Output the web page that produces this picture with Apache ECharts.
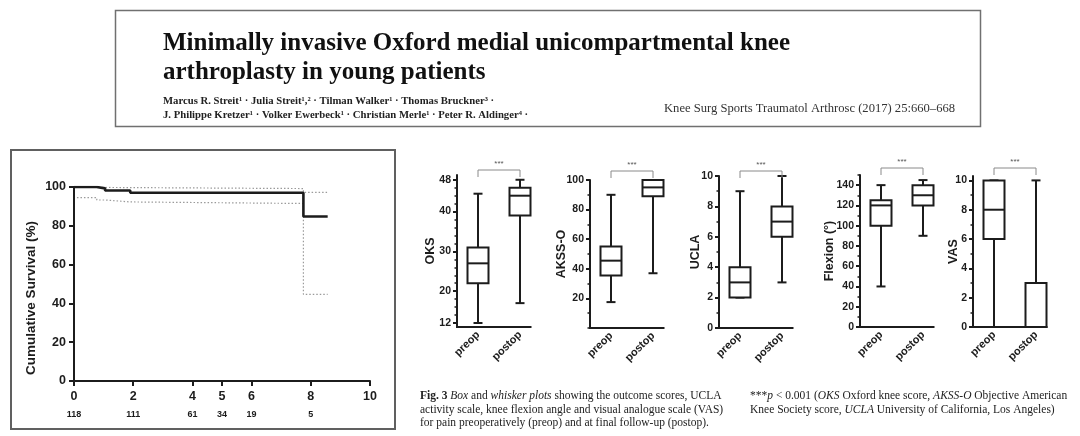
<!DOCTYPE html>
<html><head><meta charset="utf-8">
<script src="https://cdn.jsdelivr.net/npm/echarts@6/dist/echarts.min.js"></script>
<style>html,body{margin:0;padding:0;background:#fff}#c{width:1080px;height:436px}</style>
</head><body><div id="c"></div>
<script>
// ---------- Kaplan-Meier data (years, % survival) ----------
const kmMain  = [[0,100],[0.77,99.3],[1.05,98.2],[1.9,97.0],[7.75,84.8],[8.57,84.8]];
const kmUpper = [[0,99.8],[0.77,99.7],[1.9,99.2],[7.75,97.2],[8.55,97.2]];
const kmLower = [[0.1,94.5],[0.77,93.3],[1.05,92.3],[1.9,91.5],[7.75,44.7],[8.57,44.7]];
const kmTicks = [0,2,4,5,6,8,10];
const atRiskTimes  = [0,2,4,5,6,8];
const atRiskCounts = [118,111,61,34,19,5];

// ---------- Box plot data [min, Q1, median, Q3, max] ----------
const boxCategories = ['preop','postop'];
const oksPreop  = [12,22,27,31,44.5];
const oksPostop = [17,39,44,46,48];
const akssPreop  = [17.5,35.5,45.5,55,90];
const akssPostop = [37,89,95,100,100];
const uclaPreop  = [2,2,3,4,9];
const uclaPostop = [3,6,7,8,10];
const flexPreop  = [40,100,120,125,140];
const flexPostop = [90,120,130,140,145];
const vasPreop  = [0,6,8,10,10];
const vasPostop = [0,0,0,3,10];
const oksTicks  = [12,20,30,40,48];
const akssTicks = [20,40,60,80,100];
const uclaTicks = [0,2,4,6,8,10];
const flexTicks = [0,20,40,60,80,100,120,140];
const vasTicks  = [0,2,4,6,8,10];

function range(a,b,s){const r=[];for(let v=a;v<=b+1e-9;v+=s)r.push(+v.toFixed(4));return r;}

const panels = [
  {name:'OKS',        pre:oksPreop,  post:oksPostop,  ticks:oksTicks,  minor:range(12,48,2),  min:11, max:49.2, left:457, top:175, height:152, nameGap:20, br:5},
  {name:'AKSS-O',     pre:akssPreop, post:akssPostop, ticks:akssTicks, minor:range(0,100,10), min:0,  max:100,  left:590, top:180, height:148, nameGap:22, br:9},
  {name:'UCLA',       pre:uclaPreop, post:uclaPostop, ticks:uclaTicks, minor:range(0,10,1),   min:0,  max:10,   left:719, top:176, height:152, nameGap:17, br:5},
  {name:'Flexion (°)',pre:flexPreop, post:flexPostop, ticks:flexTicks, minor:range(0,150,10), min:0,  max:150,  left:860, top:175, height:152, nameGap:24, br:7},
  {name:'VAS',        pre:vasPreop,  post:vasPostop,  ticks:vasTicks,  minor:range(0,10,1),   min:0,  max:10.3, left:973, top:176, height:151, nameGap:13, br:8}
];

const SANS = "'Liberation Sans', Arial, sans-serif";
const SERIF = "'Liberation Serif', 'Times New Roman', serif";
const INK = '#1c1c1c';
const BOX_HALF = 10.5, CAP_HALF = 4.5;

const grids = [{left:74, top:187, width:296, height:194}];
const xAxes = [
  {type:'value', gridIndex:0, min:0, max:10,
   axisLine:{onZero:false, lineStyle:{color:INK,width:2}},
   axisTick:{customValues:kmTicks, length:5, lineStyle:{color:INK,width:2}},
   axisLabel:{customValues:kmTicks, color:INK, fontWeight:'bold', fontSize:12.5, margin:9, fontFamily:SANS},
   splitLine:{show:false}},
  {type:'value', gridIndex:0, min:0, max:10, position:'bottom',
   axisLine:{show:false}, axisTick:{show:false}, splitLine:{show:false},
   axisLabel:{customValues:atRiskTimes, color:INK, fontWeight:'bold', fontSize:9, margin:29, fontFamily:SANS,
     formatter:v=>String(atRiskCounts[atRiskTimes.indexOf(v)])}}
];
const yAxes = [
  {type:'value', gridIndex:0, min:0, max:100, interval:20,
   axisLine:{show:true, lineStyle:{color:INK,width:2}},
   axisTick:{show:true, length:5, lineStyle:{color:INK,width:2}},
   axisLabel:{color:INK, fontWeight:'bold', fontSize:12.5, margin:8, fontFamily:SANS},
   splitLine:{show:false}}
];
const series = [
  {type:'line', xAxisIndex:0, yAxisIndex:0, step:'end', data:kmUpper, symbol:'none',
   lineStyle:{color:'#9a9a9a', width:1.2, type:[1.5,2]}, z:2, animation:false},
  {type:'line', xAxisIndex:0, yAxisIndex:0, step:'end', data:kmLower, symbol:'none',
   lineStyle:{color:'#9a9a9a', width:1.2, type:[1.5,2]}, z:2, animation:false},
  {type:'line', xAxisIndex:0, yAxisIndex:0, step:'end', data:kmMain, symbol:'none',
   lineStyle:{color:INK, width:2.6}, z:3, animation:false}
];

function renderBox(params, api){
  const ci = api.value(0);
  const v = [1,2,3,4,5].map(k=>api.value(k));
  const p = v.map(val=>api.coord([ci,val]));
  const x = p[0][0], hw = BOX_HALF, hc = CAP_HALF;
  const st = {stroke:INK, lineWidth:2, fill:null};
  return {type:'group', children:[
    {type:'line', shape:{x1:x,y1:p[3][1],x2:x,y2:p[4][1]}, style:st},
    {type:'line', shape:{x1:x,y1:p[1][1],x2:x,y2:p[0][1]}, style:st},
    {type:'line', shape:{x1:x-hc,y1:p[4][1],x2:x+hc,y2:p[4][1]}, style:st},
    {type:'line', shape:{x1:x-hc,y1:p[0][1],x2:x+hc,y2:p[0][1]}, style:st},
    {type:'rect', shape:{x:x-hw,y:p[3][1],width:2*hw,height:p[1][1]-p[3][1]}, style:{stroke:INK,lineWidth:2,fill:'#fff'}},
    {type:'line', shape:{x1:x-hw,y1:p[2][1],x2:x+hw,y2:p[2][1]}, style:st}
  ]};
}

panels.forEach((pn,i)=>{
  const gi = i+1;
  grids.push({left:pn.left, top:pn.top, width:84, height:pn.height});
  const xi = xAxes.length;
  xAxes.push({type:'category', gridIndex:gi, data:boxCategories, boundaryGap:true,
    axisLine:{show:false, onZero:false},
    axisTick:{alignWithLabel:true, length:4, lineStyle:{color:INK,width:2}},
    axisLabel:{rotate:45, color:INK, fontWeight:'bold', fontSize:11, margin:6, fontFamily:SANS, interval:0}});
  const yi = yAxes.length;
  yAxes.push({type:'value', gridIndex:gi, min:pn.min, max:pn.max, position:'left',
    name:pn.name, nameLocation:'middle', nameGap:pn.nameGap, nameRotate:90, nameMoveOverlap:false,
    nameTextStyle:{color:INK, fontWeight:'bold', fontSize:12.5, fontFamily:SANS},
    axisLine:{show:true, onZero:false, lineStyle:{color:INK,width:2}},
    axisTick:{show:true, customValues:pn.ticks, length:4, lineStyle:{color:INK,width:2}},
    axisLabel:{customValues:pn.ticks, color:INK, fontWeight:'bold', fontSize:10.5, margin:6, fontFamily:SANS},
    splitLine:{show:false}});
  yAxes.push({type:'value', gridIndex:gi, min:pn.min, max:pn.max, position:'left',
    axisLine:{show:false}, axisLabel:{show:false}, splitLine:{show:false},
    axisTick:{show:true, customValues:pn.minor, length:2.5, lineStyle:{color:INK,width:1.5}}});
  series.push({type:'custom', xAxisIndex:xi, yAxisIndex:yi, renderItem:renderBox,
    encode:{x:0, y:[1,2,3,4,5]},
    data:[[0].concat(pn.pre),[1].concat(pn.post)], animation:false, z:3});
  // significance bracket + baseline (x-axis line ending at last box edge)
  series.push({type:'custom', xAxisIndex:xi, yAxisIndex:yi, silent:true, animation:false, z:4,
    encode:{x:0, y:[1,2]}, data:[[0, pn.max, pn.min]],
    renderItem:(params, api)=>{
      const a = api.coord([0, api.value(1)]), b = api.coord([1, api.value(1)]);
      const base = api.coord([0, api.value(2)])[1];
      const cs = params.coordSys;
      const y = a[1]-pn.br;
      const st = {stroke:'#8a8a8a', lineWidth:1, fill:null};
      return {type:'group', children:[
        {type:'line', shape:{x1:cs.x-1, y1:base, x2:b[0]+BOX_HALF+1, y2:base}, style:{stroke:INK, lineWidth:2}},
        {type:'polyline', shape:{points:[[a[0],y+7],[a[0],y],[b[0],y],[b[0],y+7]]}, style:st},
        {type:'text', style:{text:'***', x:(a[0]+b[0])/2, y:y-6, align:'center', verticalAlign:'middle', fontSize:8, fontFamily:SANS, fill:'#555'}}
      ]};
    }});
});

const CF = 11.5;
const cap = {fontSize:CF, fontFamily:SERIF, fill:'#222'};
const option = {
  backgroundColor:'#fff',
  animation:false,
  textStyle:{fontFamily:SANS},
  grid:grids, xAxis:xAxes, yAxis:yAxes, series:series,
  graphic:{elements:[
    {type:'rect', shape:{x:115.5,y:10.5,width:865,height:116}, style:{fill:null, stroke:'#707070', lineWidth:1.5}},
    {type:'rect', shape:{x:11,y:150,width:384,height:279}, style:{fill:null, stroke:'#606060', lineWidth:2}},
    {type:'text', x:163, y:44, style:{text:'Minimally invasive Oxford medial unicompartmental knee', font:"bold 25px "+SERIF, fill:'#111', verticalAlign:'middle'}},
    {type:'text', x:163, y:73, style:{text:'arthroplasty in young patients', font:"bold 25px "+SERIF, fill:'#111', verticalAlign:'middle'}},
    {type:'text', x:163, y:101, style:{text:'Marcus R. Streit¹ · Julia Streit¹,² · Tilman Walker¹ · Thomas Bruckner³ ·', font:"bold 10.7px "+SERIF, fill:'#222', verticalAlign:'middle'}},
    {type:'text', x:163, y:115, style:{text:'J. Philippe Kretzer¹ · Volker Ewerbeck¹ · Christian Merle¹ · Peter R. Aldinger⁴ ·', font:"bold 10.7px "+SERIF, fill:'#222', verticalAlign:'middle'}},
    {type:'text', x:664, y:109, style:{text:'Knee Surg Sports Traumatol Arthrosc (2017) 25:660–668', font:"12.6px "+SERIF, fill:'#333', verticalAlign:'middle'}},
    {type:'text', x:31, y:298, rotation:Math.PI/2, style:{text:'Cumulative Survival (%)', font:"bold 13.5px "+SANS, fill:INK, align:'center', verticalAlign:'middle'}},
    {type:'text', x:420, y:396, style:{text:'{b|Fig. 3} {i|Box} and {i|whisker plots} showing the outcome scores, UCLA', fontSize:CF, fontFamily:SERIF, fill:'#222', verticalAlign:'middle',
      rich:{b:{fontWeight:'bold', fontSize:CF, fontFamily:SERIF, fill:'#222'}, i:{fontStyle:'italic', fontSize:CF, fontFamily:SERIF, fill:'#222'}}}},
    {type:'text', x:420, y:410, style:Object.assign({text:'activity scale, knee flexion angle and visual analogue scale (VAS)', verticalAlign:'middle'}, cap)},
    {type:'text', x:420, y:423, style:Object.assign({text:'for pain preoperatively (preop) and at final follow-up (postop).', verticalAlign:'middle'}, cap)},
    {type:'text', x:750, y:396, style:{text:'***{i|p} < 0.001 ({i|OKS} Oxford knee score, {i|AKSS-O} Objective American', fontSize:CF, fontFamily:SERIF, fill:'#222', verticalAlign:'middle',
      rich:{i:{fontStyle:'italic', fontSize:CF, fontFamily:SERIF, fill:'#222'}}}},
    {type:'text', x:750, y:410, style:{text:'Knee Society score, {i|UCLA} University of California, Los Angeles)', fontSize:CF, fontFamily:SERIF, fill:'#222', verticalAlign:'middle',
      rich:{i:{fontStyle:'italic', fontSize:CF, fontFamily:SERIF, fill:'#222'}}}}
  ]}
};
const chart = echarts.init(document.getElementById('c'), null, {renderer:'canvas'});
chart.setOption(option);
</script></body></html>
